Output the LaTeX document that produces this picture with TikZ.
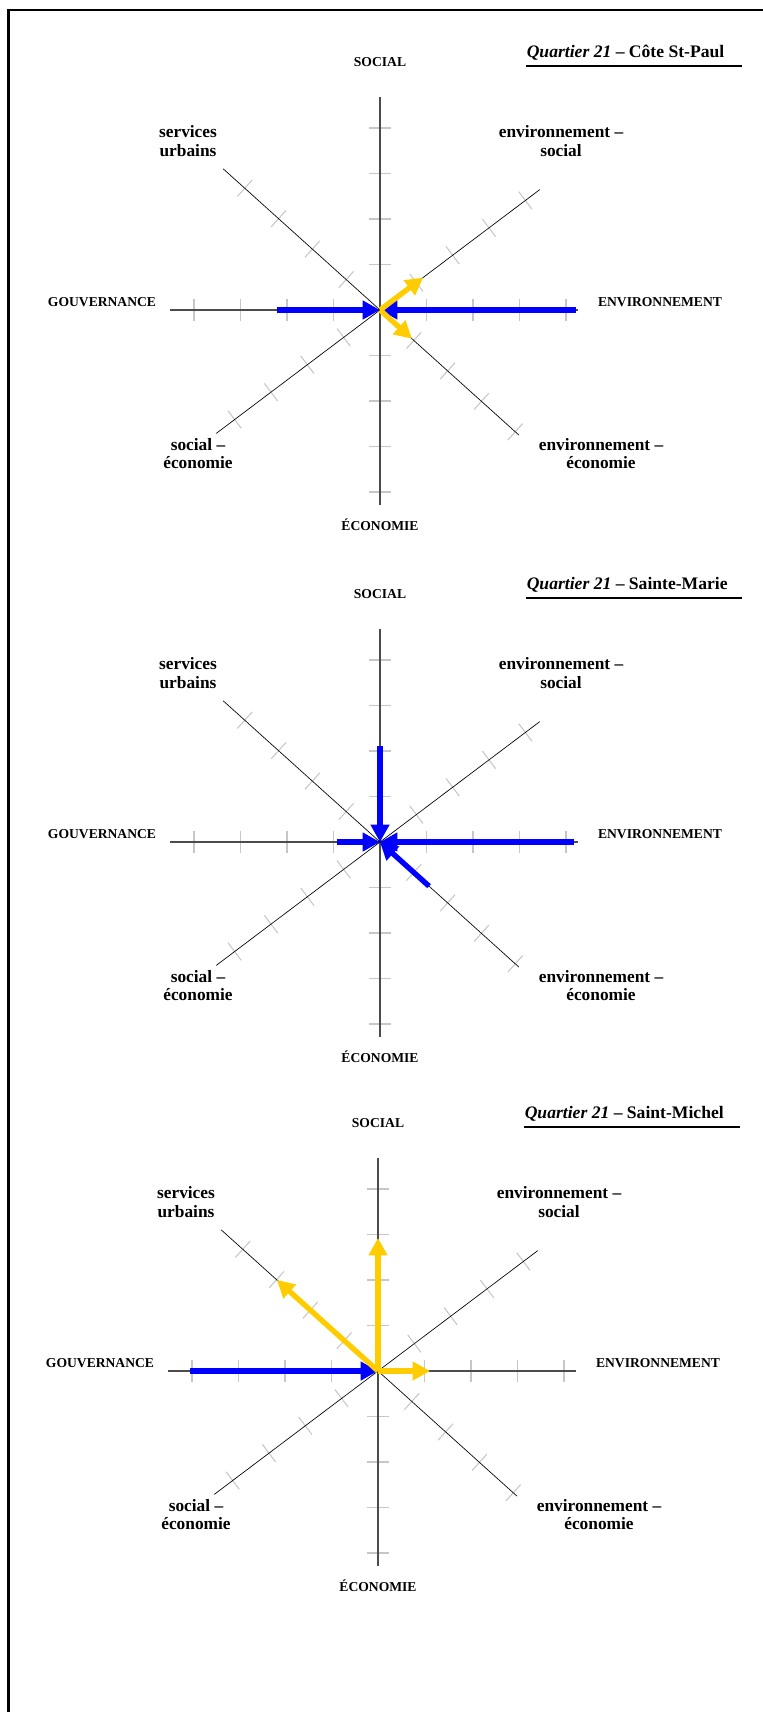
\documentclass[tikz,border=0pt]{standalone}
\usepackage{fontspec}
\setmainfont{Liberation Serif}
\usetikzlibrary{arrows.meta,calc}
\definecolor{jaune}{RGB}{255,204,0}
\tikzset{%
  >={Triangle[length=13pt,width=13.5pt]},
     axe/.style = {draw=black!70, line width=0.8pt},
    diag/.style = {draw=black, line width=0.5pt},
   grad/.style = {draw=black!22, line width=0.8pt},
    lbl/.style = {font=\fontsize{13}{13.7}\selectfont\bfseries, align=center, inner sep=0pt},
   caps/.style = {font=\fontsize{10.2}{11}\selectfont\bfseries, inner sep=0pt},
  titre/.style = {font=\fontsize{13.2}{14}\selectfont\bfseries, anchor=west, inner sep=0pt},
  vbleu/.style = {->, draw=blue, line width=4pt},
 vjaune/.style = {->, draw=jaune, line width=4pt},
}

% #1 = numero, #2 #3 = centre, #4 = quartier
\newcommand{\etoile}[4]{%
  \begin{scope}[shift={(#2,#3)}]
    \coordinate (c#1) at (0,0);
    \foreach \k in {1,...,4} {
      \draw[grad] (\k*46.5,-11) -- (\k*46.5,11);
      \draw[grad] (-\k*46.5,-11) -- (-\k*46.5,11);
      \draw[grad] (-11,\k*45.5) -- (11,\k*45.5);
      \draw[grad] (-11,-\k*45.5) -- (11,-\k*45.5);
      \foreach \a in {37,138,217,-42}
        \draw[grad, rotate=\a] (\k*45.5,-11) -- (\k*45.5,11);
    }
    \draw[axe]  (180:210) -- (0:198);
    \draw[axe]  (90:213) -- (270:195);
    \draw[diag] (138:211) -- (-42:187);
    \draw[diag] (37:200) -- (217:205);

    \node (soc#1)    [caps] at (0,248)    {SOCIAL};
    \node (eco#1)    [caps] at (0,-215)   {ÉCONOMIE};
    \node (gouv#1)   [caps] at (-278,8)   {GOUVERNANCE};
    \node (env#1)    [caps] at (280,8)    {ENVIRONNEMENT};
    \node (serv#1)   [lbl]  at (-192,169) {services\\urbains};
    \node (envsoc#1) [lbl]  at (181,169)  {environnement –\\social};
    \node (soceco#1) [lbl]  at (-182,-143.5) {social –\\économie};
    \node (enveco#1) [lbl]  at (221,-143.5)  {environnement –\\économie};
    \node (titre#1)  [titre] at (146.5,257) {\textit{Quartier 21} – #4};
    \draw[line width=1pt] (146,244) -- (362,244);
  \end{scope}}

\begin{document}
\begin{tikzpicture}[x=0.75pt, y=0.75pt]
  \useasboundingbox (0,0) rectangle (763,-1712);
  \draw[line width=1.9pt] (8.5,-1712) -- (8.5,-10) -- (763,-10);

  \etoile{1}{380}{-310}{Côte St-Paul}
  \etoile{2}{380}{-842}{Sainte-Marie}
  \etoile{3}{378}{-1371}{Saint-Michel}

  % Cote St-Paul
  \draw[vbleu]  ($(c1)+(180:103)$) -- (c1);
  \draw[vbleu]  ($(c1)+(0:196)$) -- (c1);
  \draw[vjaune] (c1) -- ($(c1)+(37:54)$);
  \draw[vjaune] (c1) -- ($(c1)+(-42:43)$);

  % Sainte-Marie
  \draw[vbleu]  ($(c2)+(90:96)$) -- (c2);
  \draw[vbleu]  ($(c2)+(180:43.5)$) -- (c2);
  \draw[vbleu]  ($(c2)+(0:194)$) -- (c2);
  \draw[vbleu]  ($(c2)+(-42:66)$) -- (c2);

  % Saint-Michel
  \draw[vbleu]  ($(c3)+(180:188)$) -- (c3);
  \draw[vjaune] (c3) -- ($(c3)+(90:133)$);
  \draw[vjaune] (c3) -- ($(c3)+(138:136)$);
  \draw[vjaune] (c3) -- ($(c3)+(0:52)$);
\end{tikzpicture}
\end{document}
